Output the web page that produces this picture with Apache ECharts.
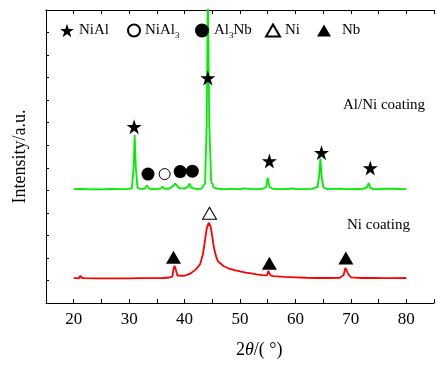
<!DOCTYPE html>
<html><head><meta charset="utf-8">
<script src="https://cdn.jsdelivr.net/npm/echarts@6/dist/echarts.min.js"></script>
<style>html,body{margin:0;padding:0;background:#fff}#c{width:437px;height:365px}</style>
</head><body><div id="c"></div>
<script>
// XRD pattern, Al/Ni coating (upper, offset) — [2theta, intensity]
const alNiCoating = [[20,505],[21,506],[22,505],[23,504],[24,505],[25,504],[26,505],[27,506],[28,505],[29,505],[30,506],[30.5,510],[30.8,600],[31.0,745],[31.2,600],[31.5,512],[32,506],[32.8,507],[33.2,522],[33.5,510],[34,505],[35,505],[35.7,508],[36,517],[36.3,508],[37,506],[37.6,512],[37.9,518],[38.3,530],[38.6,522],[39,510],[40,508],[40.6,515],[40.9,530],[41.2,512],[42,506],[43,507],[43.7,530],[44.0,800],[44.2,1400],[44.45,800],[44.8,540],[45.3,512],[46,507],[47,505],[48,505],[48.5,508],[49,505],[50,505],[50.7,509],[51,505],[52,505],[53,505],[54,506],[54.7,515],[55.0,556],[55.3,515],[56,506],[57,505],[58,505],[59,507],[59.5,509],[60,505],[61,505],[62,505],[63,506],[64,515],[64.3,570],[64.5,642],[64.7,570],[65,515],[65.5,507],[66,505],[67,506],[68,507],[69,505],[70,505],[71,506],[72,505],[72.9,512],[73.2,532],[73.5,512],[74,505],[75,505],[76,507],[77,506],[78,507],[79,505],[80,505]];
// Ni coating (lower)
const niCoating = [[20,110],[21,111],[21.2,121],[21.5,111],[22,110],[24,109],[26,109],[28,109],[30,109],[32,110],[34,110],[36,111],[37,112],[37.8,117],[38.0,150],[38.2,165],[38.4,150],[38.7,122],[39,118],[40,121],[41,130],[42,148],[42.8,172],[43.3,215],[43.7,280],[44.0,330],[44.35,356],[44.7,340],[45.0,295],[45.3,245],[45.7,205],[46,186],[47,164],[48,153],[49,146],[50,140],[51,135],[52,131],[53,127],[54,124],[54.9,123],[55.1,142],[55.3,132],[55.6,121],[56,119],[58,116],[60,114],[62,112],[64,111],[66,111],[68,112],[68.7,124],[69.0,156],[69.2,158],[69.5,130],[70,114],[72,111],[74,111],[76,110],[78,110],[80,111]];
// phase marker positions
const niAlMarks = [[30.9,782],[44.2,998],[55.3,630],[64.7,667],[73.5,599]];
const niAl3Marks = [[36.4,572]];
const al3NbMarks = [[33.4,572],[39.2,583],[41.4,585]];
const niMarks = [[44.5,398]];
const nbMarks = [[38.0,203],[55.3,176],[69.1,200]];
const xTicks = [20,30,40,50,60,70,80];
const phaseNames = ['NiAl','NiAl3','Al3Nb','Ni','Nb'];
const sampleLabels = ['Al/Ni coating','Ni coating'];

const FONT = '"Liberation Serif", "Times New Roman", serif';
const STAR = 'path://M50,0 L61.8,35.5 L99,35.5 L69,57.5 L80.5,93 L50,71 L19.5,93 L31,57.5 L1,35.5 L38.2,35.5 Z';
const TRI = 'path://M50,0 L100,87 L0,87 Z';

const chart = echarts.init(document.getElementById('c'));
const richText = {
  a:{fontSize:15,fontFamily:FONT,color:'#000'},
  s:{fontSize:9,fontFamily:FONT,color:'#000',padding:[10,0,0,0]},
  p:{fontSize:15,fontFamily:FONT,color:'#000',padding:[0,0,0,6]}
};
const fmt = {
  'NiAl':'{a|NiAl}',
  'NiAl3':'{a|NiAl}{s|3}',
  'Al3Nb':'{a|Al}{s|3}{a|Nb}',
  'Ni':'{a|Ni}',
  'Nb':'{p|Nb}'
};
const legendLeft = [55,122,190,260,312];
const legendW = [14,12,14,14,14];
const axisCommon = {
  type:'value', min:15, max:85, interval:5,
  axisLine:{lineStyle:{color:'#000',width:1}},
  axisTick:{inside:true,length:4,lineStyle:{color:'#000'}},
  splitLine:{show:false}
};
chart.setOption({
  animation:false,
  backgroundColor:'#fff',
  grid:{left:46,top:10,width:393,height:293},
  legend: phaseNames.map((n,i)=>({
    data:[n], left:legendLeft[i], top:18, itemWidth:legendW[i], itemHeight:legendW[i],
    itemGap:0, selectedMode:false,
    formatter:(name)=>fmt[name],
    textStyle:{rich:richText, fontFamily:FONT, fontSize:15, color:'#000'}
  })),
  xAxis:[Object.assign({}, axisCommon, {
    position:'bottom',
    axisLabel:{color:'#000',fontSize:17,fontFamily:FONT,margin:8,
      formatter:(v)=> xTicks.includes(v)?String(v):''}
  }), Object.assign({}, axisCommon, {
    position:'top', axisLabel:{show:false}
  })],
  yAxis:{
    type:'value', min:0, max:1300, interval:100,
    axisLine:{show:true,lineStyle:{color:'#000',width:1}},
    axisTick:{show:true,inside:true,length:3,lineStyle:{color:'#000'}},
    splitLine:{show:false}, axisLabel:{show:false},
    name:'Intensity/a.u.', nameLocation:'middle', nameGap:17,
    nameTextStyle:{fontSize:18,fontFamily:FONT,color:'#000'}
  },
  series:[
    {type:'line', name:'Al/Ni', data:alNiCoating, showSymbol:false, symbol:'none', clip:true,
      lineStyle:{color:'#00ee00',width:1.8}, z:2},
    {type:'line', name:'Ni coat', data:niCoating, showSymbol:false, symbol:'none', clip:true,
      lineStyle:{color:'#ff0000',width:1.8}, z:2},
    {type:'scatter', name:'NiAl', data:niAlMarks, symbol:STAR, symbolSize:15, itemStyle:{color:'#000',opacity:1}, z:5},
    {type:'scatter', name:'NiAl3', data:niAl3Marks, symbol:'circle', symbolSize:11, itemStyle:{color:'#fff',borderColor:'#000',borderWidth:1,opacity:1}, z:5},
    {type:'scatter', name:'Al3Nb', data:al3NbMarks, symbol:'circle', symbolSize:13, itemStyle:{color:'#000',opacity:1}, z:5},
    {type:'scatter', name:'Ni', data:niMarks, symbol:TRI, symbolSize:[14,12], itemStyle:{color:'#fff',borderColor:'#000',borderWidth:1,opacity:1}, z:5},
    {type:'scatter', name:'Nb', data:nbMarks, symbol:TRI, symbolSize:[15,13], itemStyle:{color:'#000',opacity:1}, z:5}
  ],
  graphic:[
    {type:'text', left:343, top:98, style:{text:sampleLabels[0], fontSize:15, fontFamily:FONT, fill:'#000'}},
    {type:'text', left:347, top:218, style:{text:sampleLabels[1], fontSize:15, fontFamily:FONT, fill:'#000'}},
    {type:'text', left:236, top:341, style:{
      text:'{n|2}{i|θ}{n|/( °)}',
      rich:{n:{fontSize:18,fontFamily:FONT,fill:'#000'},i:{fontSize:18,fontFamily:FONT,fontStyle:'italic',fill:'#000'}}}}
  ]
});
</script></body></html>
